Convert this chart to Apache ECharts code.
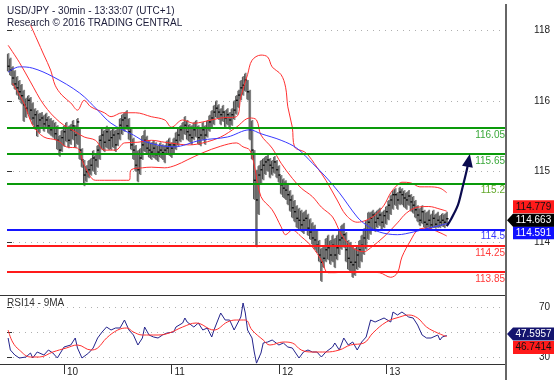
<!DOCTYPE html>
<html><head><meta charset="utf-8">
<script src="https://cdn.jsdelivr.net/npm/echarts/dist/echarts.min.js"></script>
<style>html,body{margin:0;padding:0;background:#fff}#c{width:558px;height:380px}</style>
</head><body><div id="c"></div>
<script>
// ---------- DATA ----------
const titleLines = ['USD/JPY - 30min - 13:33:07 (UTC+1)', 'Research \u00a9 2016 TRADING CENTRAL'];
const rsiTitle = 'RSI14 - 9MA';
const dayTickIndex = [25, 73, 121, 169];
const dayTickLabels = ['10', '11', '12', '13'];
const priceTickLabels = ['118', '116', '115', '114'];
const rsiTickLabels = ['70', '30'];

const highs = [117.19,117.12,116.99,116.93,116.84,116.78,116.72,116.63,116.51,116.55,
116.52,116.44,116.35,116.32,116.28,116.29,116.25,116.28,116.23,116.20,
116.17,116.14,116.09,115.94,116.02,116.09,116.14,116.08,116.11,116.17,
116.09,116.20,116.05,115.74,115.56,115.48,115.56,115.59,115.71,115.64,
115.79,115.94,116.05,116.02,116.08,116.05,116.02,116.05,116.02,116.05,
116.20,116.26,116.29,116.32,116.20,116.05,115.90,115.79,115.71,115.74,
115.94,116.02,115.93,115.86,115.83,115.86,115.83,115.79,115.83,115.80,
115.79,115.86,115.90,115.83,115.90,115.99,116.05,116.09,116.14,116.23,
116.17,116.11,116.09,116.14,116.17,116.09,116.05,116.14,116.09,116.17,
116.25,116.32,116.40,116.47,116.41,116.35,116.40,116.32,116.35,116.29,
116.35,116.47,116.55,116.63,116.78,116.84,116.89,116.78,116.63,116.17,
115.71,115.41,115.48,115.56,115.59,115.62,115.64,115.59,115.56,115.62,
115.56,115.48,115.33,115.28,115.25,115.21,115.10,115.03,114.95,114.87,
114.83,114.80,114.77,114.80,114.74,114.67,114.61,114.57,114.49,114.34,
114.22,114.26,114.37,114.42,114.34,114.42,114.37,114.42,114.49,114.57,
114.60,114.46,114.34,114.31,114.26,114.22,114.26,114.34,114.42,114.52,
114.64,114.77,114.77,114.80,114.77,114.80,114.83,114.77,114.80,114.86,
114.95,115.03,115.10,115.13,115.07,115.15,115.13,115.10,115.07,115.10,
115.04,115.01,114.95,114.87,114.83,114.87,114.80,114.77,114.80,114.74,
114.80,114.74,114.77,114.72,114.75,114.74,114.77];

const lows = [116.90,116.84,116.69,116.63,116.54,116.47,116.41,116.14,116.20,116.25,
116.17,116.09,116.02,115.91,115.97,116.05,115.99,116.05,115.96,115.93,
115.90,115.86,115.71,115.61,115.68,115.76,115.83,115.74,115.79,115.86,
115.74,115.79,115.56,115.44,115.16,115.22,115.28,115.32,115.38,115.33,
115.44,115.56,115.71,115.68,115.74,115.71,115.71,115.74,115.68,115.77,
115.86,115.94,115.99,116.02,115.86,115.71,115.56,115.38,115.22,115.33,
115.56,115.68,115.64,115.59,115.56,115.59,115.56,115.53,115.59,115.56,
115.51,115.64,115.62,115.59,115.64,115.71,115.77,115.83,115.86,115.94,
115.86,115.83,115.79,115.86,115.90,115.79,115.77,115.86,115.79,115.90,
115.99,116.05,116.09,116.20,116.17,116.09,116.14,116.05,116.09,116.02,
116.08,116.17,116.25,116.35,116.47,116.54,116.60,116.47,115.86,115.56,
114.95,114.23,114.72,115.18,115.25,115.33,115.38,115.28,115.32,115.35,
115.28,115.21,115.03,114.98,114.95,114.87,114.77,114.67,114.61,114.52,
114.49,114.46,114.43,114.49,114.40,114.34,114.26,114.19,114.14,114.00,
113.70,113.91,114.00,114.03,113.96,114.00,113.91,114.03,114.11,114.19,
114.22,114.00,113.88,113.85,113.76,113.79,113.88,113.91,114.00,114.11,
114.19,114.34,114.42,114.49,114.46,114.52,114.55,114.49,114.52,114.57,
114.64,114.72,114.80,114.86,114.80,114.87,114.87,114.83,114.80,114.86,
114.77,114.74,114.67,114.61,114.55,114.58,114.52,114.49,114.52,114.49,
114.52,114.51,114.52,114.52,114.54,114.52,114.57];

const closes = [116.99,116.93,116.81,116.72,116.66,116.60,116.54,116.40,116.35,116.47,
116.32,116.20,116.25,116.08,116.17,116.20,116.11,116.17,116.08,116.02,
116.05,115.96,115.86,115.71,115.90,115.99,116.05,115.86,116.02,116.08,
115.94,116.14,115.71,115.56,115.33,115.38,115.41,115.48,115.59,115.56,
115.71,115.86,115.94,115.83,115.99,115.86,115.90,115.94,115.79,115.96,
116.09,116.17,116.20,116.08,115.99,115.79,115.71,115.48,115.41,115.59,
115.79,115.86,115.74,115.71,115.68,115.74,115.64,115.68,115.71,115.67,
115.71,115.74,115.79,115.74,115.79,115.86,115.94,116.02,116.05,116.09,
115.99,115.94,115.90,116.02,116.05,115.90,115.94,116.02,115.94,116.05,
116.14,116.20,116.29,116.35,116.29,116.25,116.29,116.20,116.25,116.17,
116.25,116.32,116.47,116.55,116.66,116.70,116.78,116.60,116.02,115.71,
115.25,114.95,115.33,115.41,115.48,115.53,115.56,115.48,115.44,115.53,
115.41,115.33,115.18,115.13,115.10,115.03,114.95,114.83,114.77,114.67,
114.64,114.57,114.64,114.67,114.52,114.46,114.37,114.34,114.26,114.11,
114.00,114.06,114.19,114.22,114.11,114.26,114.11,114.22,114.34,114.37,
114.42,114.19,114.06,114.00,113.96,114.00,114.11,114.19,114.26,114.37,
114.49,114.61,114.67,114.72,114.61,114.67,114.72,114.61,114.71,114.77,
114.87,114.95,115.03,115.03,114.95,115.07,115.03,114.98,114.95,115.01,
114.92,114.87,114.80,114.72,114.64,114.77,114.61,114.58,114.64,114.57,
114.67,114.58,114.64,114.61,114.64,114.61,114.663];

// Bollinger upper / middle / lower and blue moving average: [bar index, price]
const bbUpper = [[10,117.62],[13,117.39],[16,117.16],[19,116.93],[21,116.70],[24,116.55],[28,116.43],[31,116.32],[34,116.47],[37,116.37],[43,116.28],[46,116.22],[51,116.28],[57,116.28],[64,116.22],[70,116.17],[73,116.06],[78,116.17],[83,116.12],[87,116.14],[95,116.20],[102,116.22],[104,116.52],[107,116.86],[109,117.08],[113,117.16],[116,117.13],[118,116.98],[122,116.86],[124,116.67],[125,116.37],[127,116.06],[128,115.76],[133,115.67],[138,115.45],[142,115.25],[147,114.95],[151,114.72],[156,114.61],[160,114.64],[164,114.72],[168,114.87],[171,115.06],[174,115.18],[176,115.22],[180,115.21],[184,115.15],[188,115.15],[193,115.13],[196,115.06]];
const bbMiddle = [[0,117.31],[5,117.05],[10,116.75],[16,116.40],[23,116.14],[30,115.99],[34,115.91],[39,115.86],[43,115.71],[48,115.71],[52,115.82],[58,115.83],[64,115.86],[70,115.83],[81,115.79],[87,115.82],[95,115.91],[102,116.06],[108,116.20],[111,116.17],[113,115.94],[118,115.74],[122,115.51],[127,115.28],[131,115.13],[136,115.00],[140,114.84],[145,114.69],[149,114.42],[154,114.22],[159,114.16],[162,114.22],[168,114.39],[174,114.60],[178,114.75],[183,114.84],[188,114.85],[193,114.81],[196,114.779]];
const bbLower = [[2,116.73],[7,116.43],[11,116.09],[16,115.91],[22,115.86],[26,115.76],[31,115.74],[34,115.48],[39,115.25],[43,115.25],[49,115.25],[54,115.25],[55,115.41],[60,115.44],[64,115.45],[70,115.44],[75,115.48],[80,115.56],[87,115.67],[95,115.77],[102,115.82],[105,115.76],[108,115.71],[110,115.48],[113,115.00],[118,114.80],[122,114.54],[124,114.42],[127,114.49],[131,114.39],[136,114.23],[140,114.03],[143,113.84],[146,113.84],[151,113.85],[154,113.84],[160,113.85],[166,113.84],[171,113.77],[174,113.84],[176,114.08],[180,114.34],[183,114.49],[187,114.52],[193,114.45],[196,114.40]];
const maBlue = [[0,116.90],[5,116.98],[11,116.96],[20,116.83],[32,116.58],[40,116.32],[46,116.12],[56,115.94],[62,115.83],[74,115.76],[86,115.86],[98,115.91],[108,116.02],[113,115.96],[122,115.86],[129,115.74],[136,115.51],[142,115.30],[148,115.06],[156,114.69],[160,114.57],[166,114.46],[174,114.42],[181,114.46],[188,114.52],[193,114.56],[196,114.591]];

// Support / resistance levels
const levelValues = [116.05, 115.65, 115.2, 114.5, 114.25, 113.85];
const levelLabels = ['116.05', '115.65', '115.2', '114.5', '114.25', '113.85'];

// Forecast arrow path [bar index, price]
const forecastArrow = [[196,114.55],[198.4,114.66],[200.6,114.87],[202.8,115.13],[204.6,115.41],[205.9,115.59]];

// RSI14 and its 9-period MA: [bar index, value]
const rsi14 = [[0,45.6],[1,36],[3,32],[5,29.6],[8,30.4],[10,33.6],[11,29.6],[13,34.4],[16,32],[18,36],[20,33.6],[22,29.6],[25,38.4],[28,40],[30,45.6],[31,37.6],[33,29.6],[36,33.6],[38,37.6],[40,45.6],[42,50.4],[44,54.4],[46,52],[48,53.6],[50,53.6],[52,60],[54,52],[56,48],[58,40],[60,45.6],[61,54.4],[63,48],[65,46.4],[67,45.6],[69,48],[71,49.6],[74,50.4],[75,54.4],[78,57.6],[79,61.6],[80,58.4],[83,54.4],[85,57.6],[87,52],[89,53.6],[91,46.4],[92,52],[95,65.6],[97,60],[99,60],[101,52],[104,62.4],[105,73.6],[106,65.6],[107,52],[109,45.6],[110,34.4],[111,25.5],[113,33.6],[114,41.6],[116,42.4],[118,44],[121,40],[123,41.6],[125,38.4],[127,37.6],[130,29.6],[132,34.4],[134,36],[136,34.4],[138,34.4],[140,30.4],[142,34.4],[145,38.4],[146,41.6],[148,36],[150,45.6],[152,40],[154,42.4],[156,36],[158,42.4],[160,46.4],[162,60],[164,58.4],[166,60],[168,61.6],[171,58.4],[172,66.4],[174,64],[176,66.4],[179,62.4],[181,61.6],[183,56],[185,48],[187,45.6],[189,45.6],[192,48],[193,44],[194,46.4],[196,47.5957]];
const rsiMA = [[0,52],[2,42.4],[5,36],[10,30.4],[14,30.4],[20,34.4],[26,37.6],[31,40],[37,36],[40,37.6],[44,45.6],[49,52],[53,53.6],[56,50.4],[60,48],[67,48],[72,49.6],[78,54.4],[84,57.6],[92,52],[98,58.4],[102,60],[106,60],[109,52],[114,44],[117,40],[123,42.4],[127,41.6],[131,36],[136,34.4],[142,34.4],[148,36],[153,40],[159,41.6],[163,49.6],[169,58.4],[175,62.4],[179,64],[183,61.6],[187,54.4],[192,49.6],[196,46.7414]];

// ---------- CHART ----------
const FONT = 'Liberation Sans, Arial, sans-serif';
const N_SLOTS = 223;
const categories = Array.from({length: N_SLOTS}, (_, i) => {
  const k = dayTickIndex.indexOf(i); return k >= 0 ? dayTickLabels[k] : '';
});
const isDay = (i) => dayTickIndex.indexOf(i) >= 0;
const levelLineColors = ['#0a9a0a', '#0a9a0a', '#0a9a0a', '#1515ff', '#ff1a1a', '#ff1a1a'];
const levelTextColors = ['#3aa83a', '#3aa83a', '#62a82a', '#3b3bff', '#ff3b3b', '#ff3b3b'];

const bars = highs.map((h, i) => [i, h, lows[i], closes[i]]);
const chart = echarts.init(document.getElementById('c'));

const bandLine = (data, color) => ({
  type: 'line', xAxisIndex: 0, yAxisIndex: 0, data: data, smooth: 0.35,
  showSymbol: false, symbol: 'none', silent: true,
  lineStyle: {color: color, width: 1}
});

const option = {
  animation: false,
  backgroundColor: '#ffffff',
  title: {
    text: titleLines.join('\n'), left: 2, top: 0,
    textStyle: {fontSize: 10, fontWeight: 'normal', color: '#1c1c3a', fontFamily: FONT, lineHeight: 12}
  },
  grid: [
    {left: 7, right: 52, top: 0, height: 295},
    {left: 7, right: 52, top: 30, height: 212.3},
    {left: 7, right: 52, top: 297, height: 67},
    {left: 7, right: 52, top: 307.5, height: 50}
  ],
  xAxis: [
    {gridIndex: 0, type: 'category', data: categories, show: false},
    {gridIndex: 1, type: 'value', min: 0, max: 1, show: false},
    {gridIndex: 2, type: 'category', data: categories,
     axisLine: {show: false},
     axisTick: {show: true, alignWithLabel: true, interval: (i) => isDay(i), length: 10, lineStyle: {color: '#333'}},
     axisLabel: {interval: (i) => isDay(i), align: 'left', margin: 3, padding: [0, 0, 0, 3], fontSize: 10, color: '#222', fontFamily: FONT},
     splitLine: {show: false}},
    {gridIndex: 3, type: 'value', min: 0, max: 1, show: false}
  ],
  yAxis: [
    {gridIndex: 0, type: 'value', min: 113.5, max: 118, show: false},
    {gridIndex: 1, type: 'value', min: 0, max: 3, interval: 1, inverse: true, position: 'right',
     axisLine: {show: false},
     axisTick: {show: true, length: 5, lineStyle: {color: '#333'}},
     axisLabel: {formatter: (v) => priceTickLabels[v] || '', align: 'right', margin: 44, fontSize: 10, color: '#222', fontFamily: FONT},
     splitLine: {show: true, lineStyle: {color: '#b0b0b0', type: [1, 5], width: 1}}},
    {gridIndex: 2, type: 'value', min: 24.8, max: 78.4, show: false},
    {gridIndex: 3, type: 'value', min: 30, max: 70, interval: 20, position: 'right',
     axisLine: {show: false},
     axisTick: {show: true, length: 5, lineStyle: {color: '#333'}},
     axisLabel: {formatter: (v) => rsiTickLabels.indexOf(String(v)) >= 0 ? String(v) : '', align: 'right', margin: 44, fontSize: 10, color: '#222', fontFamily: FONT},
     splitLine: {show: true, lineStyle: {color: '#b0b0b0', type: [1, 5], width: 1}}}
  ],
  series: [
    {
      type: 'custom', xAxisIndex: 0, yAxisIndex: 0, data: bars, silent: true,
      encode: {x: 0, y: [1, 2, 3]},
      renderItem: function (params, api) {
        const i = api.value(0);
        const hi = api.coord([i, api.value(1)]);
        const lo = api.coord([i, api.value(2)]);
        const cl = api.coord([i, api.value(3)]);
        return {type: 'group', children: [
          {type: 'line', shape: {x1: hi[0] + 0.4, y1: hi[1], x2: lo[0] + 0.4, y2: lo[1]}, style: {stroke: '#808080', lineWidth: 1.8}},
          {type: 'line', shape: {x1: hi[0] - 0.7, y1: hi[1] + 1, x2: lo[0] - 0.7, y2: lo[1] - 1}, style: {stroke: '#2a2a2a', lineWidth: 0.8}},
          {type: 'line', shape: {x1: cl[0] - 0.5, y1: cl[1], x2: cl[0] + 1.8, y2: cl[1]}, style: {stroke: '#000', lineWidth: 1.3}}
        ]};
      }
    },
    bandLine(bbUpper, '#ff3030'),
    bandLine(bbMiddle, '#ff3030'),
    bandLine(bbLower, '#ff3030'),
    Object.assign(bandLine(maBlue, '#3a3aff'), {
      markLine: {
        silent: true, symbol: ['none', 'none'], animation: false,
        label: {show: true, position: 'insideEndBottom', distance: [1, 2], fontSize: 10, fontFamily: FONT},
        data: levelValues.map((v, k) => ({
          yAxis: v,
          lineStyle: {color: levelLineColors[k], width: 2.2, type: 'solid'},
          label: {formatter: levelLabels[k], color: levelTextColors[k]}
        }))
      }
    }),
    {type: 'line', xAxisIndex: 2, yAxisIndex: 2, data: rsi14, showSymbol: false, symbol: 'none', silent: true,
     lineStyle: {color: '#24248c', width: 1}},
    {type: 'line', xAxisIndex: 2, yAxisIndex: 2, data: rsiMA, smooth: 0.4, showSymbol: false, symbol: 'none', silent: true,
     lineStyle: {color: '#ff3030', width: 1}}
  ]
};
chart.setOption(option);

// ---------- annotations placed through the chart's own scales ----------
const g = [];
g.push({type: 'line', z: 50, shape: {x1: 0, y1: 295.5, x2: 506, y2: 295.5}, style: {stroke: '#333', lineWidth: 1}});
g.push({type: 'line', z: 50, shape: {x1: 0, y1: 364.5, x2: 506, y2: 364.5}, style: {stroke: '#333', lineWidth: 1}});
g.push({type: 'line', z: 50, shape: {x1: 506, y1: 4, x2: 506, y2: 380}, style: {stroke: '#666', lineWidth: 2}});
g.push({type: 'text', z: 50, left: 7, top: 298, style: {text: rsiTitle, fontSize: 10, fill: '#333', fontFamily: FONT}});

// forecast arrow
const ap = forecastArrow.map(p => chart.convertToPixel({gridIndex: 0}, p));
g.push({type: 'polyline', z: 60, shape: {points: ap, smooth: 0.3}, style: {stroke: '#0b0b4f', lineWidth: 2.2, fill: null}});
(function () {
  const a = ap[ap.length - 2], b = ap[ap.length - 1];
  const dx = b[0] - a[0], dy = b[1] - a[1], L = Math.hypot(dx, dy);
  const ux = dx / L, uy = dy / L, px = -uy, py = ux;
  const tip = [b[0] + ux * 4, b[1] + uy * 4];
  const base = [tip[0] - ux * 13, tip[1] - uy * 13];
  g.push({type: 'polygon', z: 61, shape: {points: [tip, [base[0] + px * 5.5, base[1] + py * 5.5], [base[0] - px * 5.5, base[1] - py * 5.5]]}, style: {fill: '#0b0b4f'}});
})();

// price tags
function tag(yc, text, fill, color, arrow) {
  g.push({type: 'rect', z: 70, shape: {x: 513, y: yc - 6.5, width: 41, height: 13}, style: {fill: fill}});
  if (arrow) g.push({type: 'polygon', z: 70, shape: {points: [[507, yc], [513, yc - 6.5], [513, yc + 6.5]]}, style: {fill: fill}});
  g.push({type: 'text', z: 71, x: 533.5, y: yc, style: {text: text, fill: color, fontSize: 10, fontFamily: FONT, align: 'center', verticalAlign: 'middle'}});
}
const lastClose = closes[closes.length - 1];
const midLast = bbMiddle[bbMiddle.length - 1][1];
const maLast = maBlue[maBlue.length - 1][1];
const yc = chart.convertToPixel({yAxisIndex: 0}, lastClose) + 1.5;
tag(yc - 13.5, midLast.toFixed(3), '#ff1a1a', '#111', false);
tag(yc + 12.5, maLast.toFixed(3), '#1010ff', '#fff', false);
tag(yc, lastClose.toFixed(3), '#000', '#fff', true);

const rsiLast = rsi14[rsi14.length - 1][1];
const rsiMALast = rsiMA[rsiMA.length - 1][1];
const yr = chart.convertToPixel({yAxisIndex: 2}, rsiLast) - 1.5;
tag(yr + 13.5, rsiMALast.toFixed(4), '#ff1a1a', '#111', false);
tag(yr, rsiLast.toFixed(4), '#14146e', '#fff', true);

chart.setOption({graphic: g});
</script>
</body></html>
